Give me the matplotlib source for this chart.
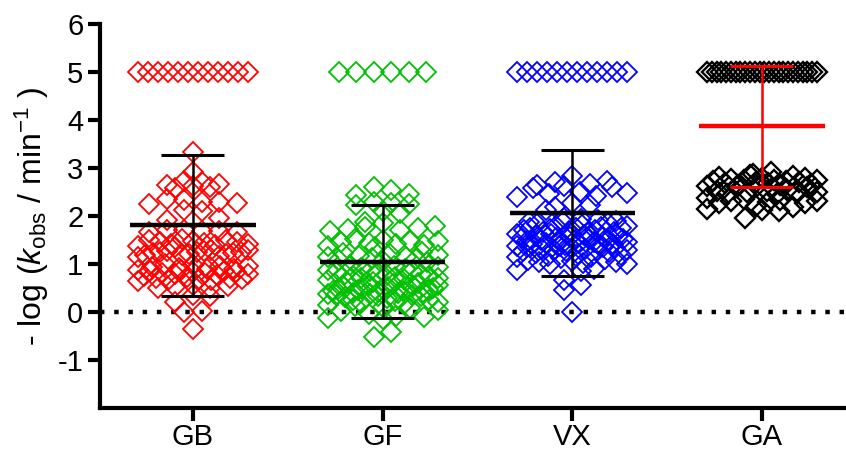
import numpy as np
import matplotlib
matplotlib.use("Agg")
import matplotlib.pyplot as plt
from matplotlib import font_manager as fm

names = {f.name for f in fm.fontManager.ttflist}
fam = "Liberation Sans Narrow" if "Liberation Sans Narrow" in names else "Liberation Sans"
plt.rcParams['font.family'] = [fam, 'Liberation Sans', 'DejaVu Sans']
plt.rcParams['mathtext.fontset'] = 'custom'
plt.rcParams['mathtext.rm'] = 'Liberation Sans'
plt.rcParams['mathtext.it'] = 'Liberation Sans:italic'

categories = ["GB", "GF", "VX", "GA"]
colors = ["#ff0000", "#00c000", "#0000ff", "#000000"]
bar_colors = ["#000000", "#000000", "#000000", "#ff0000"]

gb = [5.0, 5.0, 5.0, 5.0, 5.0, 5.0, 5.0, 5.0, 5.0, 5.0, 5.0, 5.0,
      3.33, 2.92, 2.72, 2.70, 2.66, 2.64, 2.62, 2.60, 2.58,
      2.36, 2.34, 2.30, 2.30, 2.28, 2.26, 2.12, 2.10, 1.95, 1.92,
      1.70, 1.70, 1.68, 1.68, 1.66, 1.66,
      1.52, 1.50, 1.49, 1.48, 1.46, 1.45, 1.44, 1.42, 1.41, 1.40, 1.38, 1.36,
      1.30, 1.29, 1.28, 1.27, 1.26, 1.25, 1.24, 1.23, 1.22, 1.21, 1.20, 1.19, 1.18, 1.16, 1.14,
      1.00, 0.98, 0.96, 0.95, 0.94, 0.92, 0.90, 0.89, 0.88, 0.87, 0.86, 0.85, 0.84, 0.83,
      0.82, 0.81, 0.80, 0.79, 0.78, 0.76,
      0.72, 0.71, 0.70, 0.69, 0.68, 0.67, 0.66, 0.65,
      0.56, 0.54, 0.52, 0.50, 0.49, 0.36, 0.34, 0.20, 0.02, 0.0, -0.35]

gf = [5.0, 5.0, 5.0, 5.0, 5.0, 5.0,
      2.60, 2.55, 2.45, 2.44, 2.30, 2.28, 2.24, 2.22, 2.10, 2.06, 1.88, 1.86,
      1.80, 1.78, 1.74, 1.72, 1.70, 1.68,
      1.52, 1.50, 1.48, 1.47, 1.45, 1.44, 1.42, 1.40, 1.38, 1.36,
      1.25, 1.23, 1.21, 1.19, 1.17, 1.15, 1.14, 1.12, 1.10, 1.08, 1.06, 1.04,
      0.98, 0.96, 0.94, 0.92, 0.90, 0.88, 0.86, 0.85, 0.84, 0.82, 0.80, 0.79, 0.78, 0.76,
      0.74, 0.72, 0.71, 0.70, 0.68, 0.66,
      0.62, 0.61, 0.60, 0.58, 0.57, 0.56, 0.55, 0.54, 0.52, 0.51, 0.50, 0.49, 0.48, 0.47,
      0.46, 0.45, 0.44, 0.43, 0.42, 0.41, 0.40, 0.39, 0.38, 0.37, 0.36, 0.35, 0.34, 0.33,
      0.31, 0.30,
      0.26, 0.24, 0.22, 0.20, 0.18, 0.16, 0.14, 0.12, 0.10, 0.08, 0.05, 0.02,
      -0.04, -0.08, -0.10, -0.12, -0.15, -0.42, -0.52]

vx = [5.0, 5.0, 5.0, 5.0, 5.0, 5.0, 5.0, 5.0, 5.0, 5.0, 5.0, 5.0,
      2.84, 2.72, 2.70, 2.66, 2.64, 2.62, 2.60, 2.58,
      2.50, 2.48, 2.45, 2.42, 2.40, 2.28, 2.22, 2.18, 2.12,
      1.95, 1.93, 1.92, 1.90, 1.88, 1.87, 1.85, 1.84, 1.82, 1.80, 1.79, 1.78, 1.76,
      1.75, 1.74, 1.72, 1.71, 1.70, 1.68, 1.67, 1.66, 1.65, 1.63, 1.62, 1.61,
      1.59, 1.58, 1.57, 1.56, 1.55, 1.54, 1.53, 1.52, 1.51, 1.50, 1.49, 1.48, 1.47,
      1.46, 1.45, 1.44, 1.43, 1.42, 1.41, 1.40, 1.39, 1.38, 1.37, 1.36, 1.35, 1.34,
      1.33, 1.32, 1.31, 1.30, 1.30, 1.29, 1.28, 1.27, 1.26,
      1.22, 1.20, 1.18, 1.17, 1.15, 1.14, 1.12, 1.10, 1.08, 1.06, 1.05, 1.04, 1.02,
      1.01, 1.00, 0.90, 0.88, 0.86, 0.66, 0.56, 0.45, 0.0]

ga = [5.0, 5.0, 5.0, 5.0, 5.0, 5.0, 5.0, 5.0, 5.0, 5.0, 5.0, 5.0,
      5.0, 5.0, 5.0, 5.0, 5.0, 5.0, 5.0, 5.0, 5.0, 5.0, 5.0, 5.0,
      2.92, 2.88, 2.86, 2.84, 2.82, 2.80, 2.80, 2.78,
      2.76, 2.75, 2.74, 2.73, 2.72, 2.71, 2.70, 2.69, 2.68,
      2.66, 2.65, 2.64, 2.63, 2.62, 2.61, 2.60,
      2.55, 2.53, 2.52, 2.50, 2.49, 2.48, 2.46, 2.45,
      2.38, 2.36, 2.34, 2.32, 2.31, 2.30, 2.28, 2.27,
      2.20, 2.18, 2.15, 2.12, 2.10, 1.95]

means = [1.81, 1.05, 2.06, 3.87]
sds = [1.47, 1.17, 1.31, 1.26]

groups = [gb, gf, vx, ga]

yticks = [-1, 0, 1, 2, 3, 4, 5, 6]


def swarm_offsets(vals, bin_h=0.25, dx=0.092, maxhalf=0.29):
    vals = np.asarray(vals, dtype=float)
    offs = np.zeros_like(vals)
    bins = np.floor(vals / bin_h + 0.5).astype(int)
    for b in np.unique(bins):
        idx = np.where(bins == b)[0]
        idx = idx[np.argsort(vals[idx])]
        n = len(idx)
        if n == 1:
            continue
        step = dx if (n - 1) * dx / 2 <= maxhalf else 2 * maxhalf / (n - 1)
        pos = (np.arange(n) - (n - 1) / 2) * step
        s = max(1, int(round(n * 0.618)))
        while np.gcd(s, n) != 1:
            s += 1
        order = [(j * s) % n for j in range(n)]
        offs[idx] = pos[order]
    return offs


fig = plt.figure(figsize=(8.46, 4.54), dpi=100)
ax = fig.add_axes([100 / 846, 46 / 454, 746 / 846, 384 / 454])

ax.plot([-0.49, 3.443], [0, 0], color="black", lw=3.2,
        linestyle=(0, (1, 2.2)), dash_capstyle="butt", zorder=1)

for i, (vals, c) in enumerate(zip(groups, colors)):
    x = i + swarm_offsets(vals)
    ax.plot(x, vals, linestyle="none", marker="D", markersize=10.5,
            markerfacecolor="none", markeredgecolor=c,
            markeredgewidth=1.7 if i == 3 else 1.3, zorder=2)

for i, (m, s, bc) in enumerate(zip(means, sds, bar_colors)):
    ax.vlines(i, m - s, m + s, color=bc, lw=1.8, zorder=3)
    ax.hlines([m - s, m + s], i - 0.166, i + 0.166, color=bc, lw=2.2, zorder=3)
    ax.hlines(m, i - 0.33, i + 0.33, color=bc, lw=3.2, zorder=3)

ax.set_xlim(-0.49, 3.443)
ax.set_ylim(-2, 6)
ax.set_xticks(range(len(categories)))
ax.set_xticklabels(categories)
ax.set_yticks(yticks)
ax.set_yticklabels([str(t) for t in yticks])
for sp in ["top", "right"]:
    ax.spines[sp].set_visible(False)
for sp in ["left", "bottom"]:
    ax.spines[sp].set_linewidth(3)
ax.tick_params(axis="both", width=3, length=9, labelsize=21, direction="out")
ax.tick_params(axis="x", pad=2)
ax.tick_params(axis="y", pad=3)
ax.set_ylabel(r"- log ($\mathit{k}_{\mathrm{obs}}$ / min$^{\mathrm{-1}}$ )",
              fontsize=23, labelpad=5)

fig.savefig("out.png", dpi=100)
